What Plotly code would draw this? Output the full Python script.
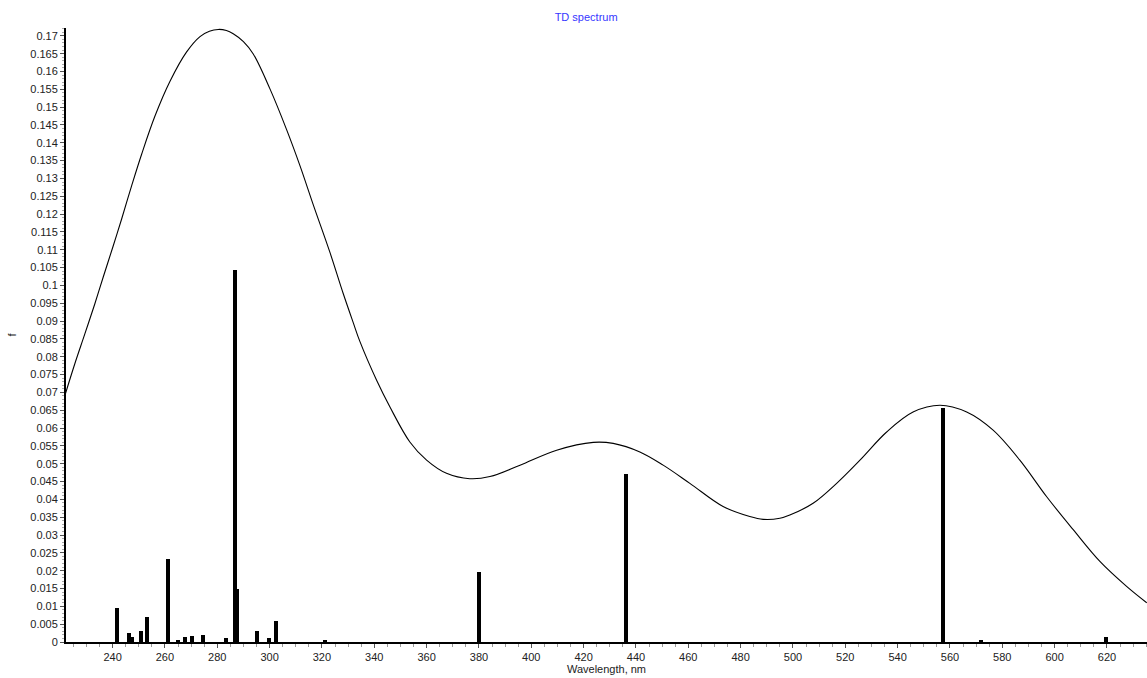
import plotly.graph_objects as go

# Excitation lines (stick spectrum): wavelength (nm) and oscillator strength f
line_nm = [241.6, 246.2, 247.4, 250.8, 253.1, 261.1, 264.9, 267.6, 270.3, 274.5,
           283.3, 286.7, 287.5, 295.1, 299.7, 302.4, 321.1, 379.9, 436.3, 557.3,
           571.8, 619.6]
line_f = [0.0096, 0.0026, 0.0013, 0.0032, 0.0069, 0.0232, 0.0005, 0.0015, 0.0018, 0.0021,
          0.0012, 0.1042, 0.0149, 0.0032, 0.0010, 0.0060, 0.0005, 0.0197, 0.0472, 0.0655,
          0.0005, 0.0015]

# Broadened spectrum curve
curve_nm = [221.8, 225.6, 229.4, 233.2, 236.4, 240.2, 243.4, 247.3, 251.1, 256.2,
            261.9, 268.3, 273.4, 277.0, 280.4, 283.5, 286.1, 290.0, 293.7, 300.1, 306.5, 311.6, 316.7,
            323.0, 328.1, 332.0, 334.5, 340.9, 346.0, 353.6, 360.0, 367.6, 376.5,
            384.2, 395.7, 409.7, 423.7, 431.3, 441.5, 450.4, 460.6, 473.3, 483.5,
            488.6, 495.0, 498.8, 507.7, 516.7, 525.6, 535.8, 545.9, 556.2, 566.4,
            576.5, 586.7, 596.9, 607.1, 617.3, 627.5, 635.2]
curve_f = [0.0692, 0.0781, 0.0864, 0.0948, 0.1023, 0.1110, 0.1185, 0.1280, 0.1368, 0.1475,
           0.1572, 0.1655, 0.1698, 0.1713, 0.1718, 0.1715, 0.1706, 0.1684, 0.1650, 0.1552, 0.1437, 0.1336, 0.1226,
           0.1094, 0.0978, 0.0895, 0.0843, 0.0734, 0.0659, 0.0561, 0.0510, 0.0473, 0.0458,
           0.0464, 0.0496, 0.0538, 0.0560, 0.0557, 0.0533, 0.0496, 0.0445, 0.0380, 0.0352,
           0.0344, 0.0347, 0.0356, 0.0389, 0.0445, 0.0510, 0.0589, 0.0645, 0.0664, 0.0645,
           0.0594, 0.0510, 0.0408, 0.0315, 0.0226, 0.0156, 0.0110]

x_range = [222.2, 635.3]
y_range = [0, 0.1722]

FONT = "Liberation Sans, Arial, sans-serif"

fig = go.Figure()
fig.add_trace(go.Bar(x=line_nm, y=line_f, width=1.55,
                     marker=dict(color="black", line=dict(width=0)),
                     showlegend=False, hoverinfo="x+y"))
fig.add_trace(go.Scatter(x=curve_nm, y=curve_f, mode="lines",
                         line=dict(color="black", width=1.1, shape="spline", smoothing=1.0),
                         showlegend=False))

fig.update_layout(
    width=1147, height=678,
    margin=dict(l=66, r=0, t=28, b=36, pad=0),
    paper_bgcolor="white", plot_bgcolor="white",
    barmode="overlay", bargap=0,
    font=dict(family=FONT, size=11, color="#222"),
    title=dict(text="TD spectrum", x=0.511, xanchor="center", xref="container",
               y=1 - 17 / 678, yanchor="middle", yref="container",
               font=dict(family=FONT, size=11, color="#3636ff")),
    xaxis=dict(range=x_range, dtick=20, tick0=0, showgrid=False, zeroline=False,
               showline=True, linecolor="black", linewidth=2,
               ticks="outside", ticklen=4, tickcolor="#555", tickwidth=1,
               minor=dict(dtick=5, ticks="outside", ticklen=3, tickcolor="#999", tickwidth=1),
               tickfont=dict(size=11, color="#222"),
               title=dict(text="Wavelength, nm", standoff=2, font=dict(size=11, color="#222"))),
    yaxis=dict(range=y_range, dtick=0.005, tick0=0, showgrid=False, zeroline=False,
               showline=True, linecolor="black", linewidth=2,
               ticks="outside", ticklen=4, tickcolor="#555", tickwidth=1,
               minor=dict(dtick=0.001, ticks="outside", ticklen=2, tickcolor="#aaa", tickwidth=1),
               tickfont=dict(size=11, color="#222"),
               title=dict(text="f", standoff=11, font=dict(size=11, color="#222"))),
)

fig.write_html("out.html")
